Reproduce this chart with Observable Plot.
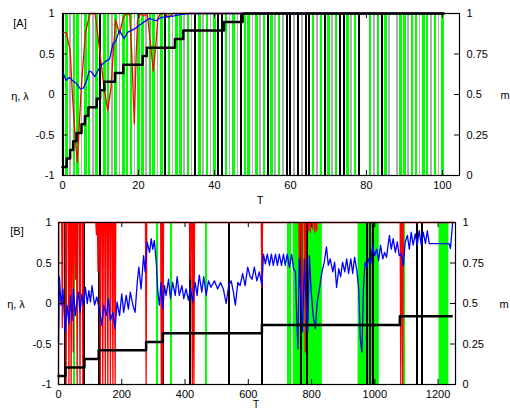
<!DOCTYPE html>
<html><head><meta charset="utf-8">
<script src="https://cdn.jsdelivr.net/npm/d3@7"></script>
<script src="https://cdn.jsdelivr.net/npm/@observablehq/plot@0.6"></script>
<style>
body{margin:0;background:#fff;}
#wrap{position:relative;width:510px;height:410px;overflow:hidden;font-family:"Liberation Sans",Arial,sans-serif;font-size:11px;color:#000;}
.panel{position:absolute;left:0;}
.lab{position:absolute;transform:translate(-50%,-50%);white-space:nowrap;line-height:1;}
</style></head><body>
<div id="wrap"></div>
<script>
// ---------- shared tick data ----------
const yTicks = [-1, -0.5, 0, 0.5, 1];
const yTickLabels = ["-1", "-0.5", "0", "0.5", "1"];
const mTickLabels = ["0", "0.25", "0.5", "0.75", "1"];
const xTicksA = [0, 20, 40, 60, 80, 100];
const xTicksB = [0, 200, 400, 600, 800, 1000, 1200];

// ---------- panel A data ----------
const aGreenT = [1,3,4,6,7,9,11,12,14,16,17,18,20,21,23,24,26,28,30,31,33,36,38,40,43,45,48,49,51,53,55,57,66,68,70,72,75,77,81,83,85,89,90,92,93,95,96,98,100];
const aGreyT = [2,5,8,13,15,19,22,25,29,32,34,37,39,44,46,50,52,56,58,61,63,67,71,76,82,86,88,91,94,97,99];
const aBlackT = [0,10,27,35,41,42,47,54,59,60,62,64,65,69,73,74,78,84];
// eta (red)
const etaA = [[0,0.77],[1,0.76],[2,0.55],[2.6,0.01],[3.4,-0.57],[3.9,-0.84],[4.9,0.05],[6.0,0.75],[7.1,0.98],[7.6,1],[8.6,1],[9.9,0.5],[10.9,0.1],[11.9,-0.2],[12.8,0.1],[13.4,0.55],[14,0.92],[15,0.75],[16,0.95],[16.9,1],[17.7,0.98],[18.2,0.55],[18.9,-0.36],[19.4,0.5],[19.8,0.92],[20.5,1],[21.4,0.97],[22.3,1],[23,0.7],[23.9,0.29],[24.6,0.63],[25.1,0.94],[25.8,1],[27,1],[28,0.95],[29,1],[100.4,1]];
// lambda (blue)
const lamA = [[0,0.29],[0.9,0.175],[1.8,0.21],[2.8,0.165],[3.6,0.14],[4.7,0.07],[5.5,0.08],[6.4,0.175],[7,0.29],[7.6,0.28],[8.5,0.22],[9.4,0.3],[10.2,0.36],[11.1,0.4],[12.4,0.44],[13.3,0.63],[13.9,0.65],[15,0.79],[16.2,0.69],[17.2,0.77],[19,0.81],[20.7,0.87],[22.9,0.94],[24.6,0.91],[25.9,0.95],[27.7,0.96],[29.4,0.97],[31.2,0.99],[33.4,1],[100.4,1]];
// m (black staircase), right axis
const mA_T = [0,1.1,2,2.8,3.7,5,5.9,6.8,9,9.9,11,13.8,16,21.1,22.2,29.6,31.8,42.5,47.4,100.4];
const mA_v = [0.053,0.105,0.158,0.211,0.263,0.316,0.368,0.421,0.474,0.526,0.579,0.632,0.684,0.737,0.789,0.842,0.895,0.947,1,1];

// ---------- panel B data ----------
const bGreenT = [50,311,357,465,724,731,1092];
const bGreenBands = [[742,834],[947,1014],[1203,1234]];
const bBlackT = [22,82,127,330,417,539,643,768,784,976,986,993,1134,1148];
const etaB = [[0,-1],[1,1],[10,1],[12,-0.3],[14,1],[22,1],[24,-1],[26,1],[31,1],[33,-1],[35,1],[38,1],[40,-1],[42,1],[45,1],[47,-0.6],[49,1],[52,1],[54,0.3],[56,1],[57,1],[59,-1],[61,1],[66,1],[68,-1],[70,1],[75,1],[77,-1],[79,1],[118,1],[120,0.85],[122,1],[123,1],[125,0.4],[127,1],[130,1],[132,-1],[134,1],[138,1],[140,-1],[142,1],[146,1],[148,-1],[150,1],[154,1],[156,-1],[158,1],[162,1],[164,-1],[166,1],[170,1],[172,-1],[174,1],[177,1],[179,-1],[181,1],[275,1],[277,-1],[279,1],[323,1],[325,-1],[327,1],[328,1],[330,-1],[332,1],[414,1],[416,0.3],[418,1],[421,1],[423,-1],[425,1],[426,1],[428,-1],[430,1],[641,1],[643,0.2],[645,1],[760,1],[762,0.3],[764,1],[768,1],[770,-0.1],[772,1],[778,1],[780,-0.6],[782,1],[789,1],[790,0.9],[791,1],[795,1],[796,0.88],[797,1],[802,1],[803,0.92],[804,1],[809,1],[810,0.88],[811,1],[815,1],[816,0.9],[817,1],[1080,1],[1082,-1],[1084,1],[1086,1],[1088,-1],[1090,1],[1250,1]];
const lamB = [[0,-0.48],[3,0.33],[8,-0.02],[14,0.18],[21,-0.35],[27,-0.02],[33,-0.25],[38,0.1],[43,-0.21],[47,0.18],[53,-0.15],[58,0.02],[63,0.14],[68,-0.11],[74,0.12],[79,-0.02],[85,0.2],[91,0],[96,0.16],[101,0.02],[106,0.22],[114,-0.02],[121,0.08],[130,-0.09],[137,-0.27],[143,-0.02],[151,-0.15],[158,0.06],[164,-0.21],[172,-0.11],[179,-0.31],[185,0.02],[193,-0.15],[200,0.12],[206,-0.11],[214,0.1],[221,-0.07],[227,0.14],[235,-0.02],[242,-0.11],[249,0.26],[254,0.45],[261,0.18],[269,0.59],[274,0.39],[280,0.76],[288,0.63],[293,0.8],[298,0.67],[303,0.78],[309,0.51],[314,0.14],[319,-0.02],[324,0.26],[330,-0.07],[335,0.22],[340,0.1],[348,0.3],[354,0.06],[361,0.26],[369,0.1],[375,0.33],[382,0.1],[390,0.22],[396,0.06],[403,0.18],[411,0.04],[417,0.2],[424,0.02],[432,0.26],[438,0.1],[445,0.35],[453,0.14],[459,0.33],[467,0.1],[474,0.28],[482,0.2],[493,0.28],[503,0.18],[512,0.26],[521,0.18],[530,0],[538,0.22],[546,0.28],[553,0.14],[559,-0.02],[567,0.26],[574,0.22],[582,0.37],[590,0.22],[598,0.45],[606,0.33],[612,0.3],[619,0.45],[627,0.28],[635,0.39],[643,0.22],[648,0.61],[654,0.49],[660,0.61],[667,0.47],[673,0.61],[679,0.47],[686,0.61],[692,0.47],[698,0.61],[705,0.47],[711,0.61],[717,0.47],[723,0.61],[730,0.45],[737,0.61],[743,0.43],[749,0.39],[753,-0.15],[757,-0.56],[761,0.55],[767,-0.02],[772,-0.35],[777,0.55],[782,0.06],[788,-0.35],[793,0.59],[799,0.14],[805,-0.15],[812,-0.31],[818,0.02],[825,0.18],[833,0.39],[840,0.51],[847,0.7],[853,0.47],[859,0.55],[867,0.39],[873,0.51],[879,0.2],[886,0.43],[892,0.33],[898,0.51],[905,0.39],[911,0.55],[917,0.37],[924,0.55],[930,0.37],[936,0.57],[943,0.41],[949,0.18],[954,-0.44],[959,-0.6],[964,0.18],[969,0.51],[975,0.45],[980,0.55],[987,0.49],[993,0.72],[999,0.59],[1006,0.67],[1012,0.53],[1018,0.72],[1025,0.55],[1031,0.63],[1037,0.57],[1046,0.84],[1052,0.67],[1058,0.8],[1065,0.63],[1071,0.76],[1077,0.59],[1084,0.61],[1090,0.47],[1096,0.76],[1103,0.84],[1109,0.67],[1115,0.88],[1121,0.72],[1128,0.86],[1134,0.72],[1140,0.9],[1147,0.72],[1153,0.88],[1160,0.74],[1166,0.9],[1172,0.74],[1235,0.74],[1239,0.68],[1246,1]];
const mB_T = [0,22,82,127,277,330,643,1079,1243];
const mB_v = [0.053,0.105,0.158,0.211,0.263,0.316,0.368,0.421,0.421];

// ---------- drawing ----------
const FONT = '"Liberation Sans", Arial, sans-serif';
function makePanel(cfg) {
  const [x0, x1] = cfg.xDomain;
  const tx = cfg.tickLenX; // tick length in x units (~5px)
  const ty = 0.062;       // tick length in y units (~5px)
  const stair = cfg.mT.map((t, i) => ({t, m: cfg.mV[i]}));
  return Plot.plot({
    width: 510, height: 205,
    marginTop: cfg.mt, marginBottom: cfg.mb, marginLeft: cfg.ml, marginRight: cfg.mr,
    x: {domain: cfg.xDomain}, y: {domain: [-1, 1]},
    style: {fontFamily: FONT, fontSize: "11px", background: "white", color: "black"},
    marks: [
      ...(cfg.bands ? [Plot.rect(cfg.bands, {x1: d => d[0], x2: d => d[1], fill: "#00ff00"})] : []),
      Plot.ruleX(cfg.green, {x: d => d, stroke: "#00ff00", strokeWidth: cfg.gw, shapeRendering: "crispEdges"}),
      ...(cfg.grey ? [Plot.ruleX(cfg.grey, {x: d => d, stroke: "#b0b0b0", strokeWidth: 1.5, shapeRendering: "crispEdges"})] : []),
      Plot.ruleX(cfg.black, {x: d => d, stroke: "#000", strokeWidth: 2, shapeRendering: "crispEdges"}),
      Plot.line(cfg.eta, {x: d => d[0], y: d => d[1], stroke: "#ff0000", strokeWidth: 1.3}),
      Plot.line(cfg.lam, {x: d => d[0], y: d => d[1], stroke: "#0000ff", strokeWidth: 1.3}),
      Plot.line(stair, {x: "t", y: d => 2 * d.m - 1, curve: "step-after", stroke: "#000", strokeWidth: 2.5}),
      Plot.frame({stroke: "#000", strokeWidth: 1.2}),
      // inward ticks
      Plot.ruleY(yTicks, {y: d => d, x1: x0, x2: x0 + tx, stroke: "#000"}),
      Plot.ruleY(yTicks, {y: d => d, x1: x1 - tx, x2: x1, stroke: "#000"}),
      Plot.ruleX(cfg.xTicks, {x: d => d, y1: -1, y2: -1 + ty, stroke: "#000"}),
      Plot.ruleX(cfg.xTicks, {x: d => d, y1: 1 - ty, y2: 1, stroke: "#000"}),
      Plot.axisX({ticks: cfg.xTicks, tickSize: 0, tickPadding: 6, tickFormat: d => String(d), label: null}),
      Plot.axisY({anchor: "left", ticks: yTicks, tickSize: 0, tickPadding: cfg.padL, tickFormat: d => yTickLabels[yTicks.indexOf(d)], label: null}),
      Plot.axisY({anchor: "right", ticks: yTicks, tickSize: 0, tickPadding: 7, tickFormat: d => mTickLabels[yTicks.indexOf(d)], label: null})
    ]
  });
}

const wrap = document.getElementById("wrap");
const pA = makePanel({xDomain: [0, 104.5], tickLenX: 1.3, mt: 13, mb: 30, ml: 62, mr: 51, padL: 8, gw: 2.5,
  green: aGreenT, grey: aGreyT, black: aBlackT, eta: etaA, lam: lamA, mT: mA_T, mV: mA_v, xTicks: xTicksA});
const pB = makePanel({xDomain: [0, 1255], tickLenX: 16, mt: 17, mb: 26, ml: 58, mr: 55, padL: 7, gw: 2,
  green: bGreenT, bands: bGreenBands, black: bBlackT, eta: etaB, lam: lamB, mT: mB_T, mV: mB_v, xTicks: xTicksB});
pA.classList.add("panel"); pA.style.top = "0px";
pB.classList.add("panel"); pB.style.top = "205px";
wrap.appendChild(pA); wrap.appendChild(pB);

const labels = [
  {t: "[A]", x: 20, y: 23}, {t: "η, λ", x: 20, y: 96}, {t: "m", x: 505, y: 95}, {t: "T", x: 260, y: 200},
  {t: "[B]", x: 17, y: 231}, {t: "η, λ", x: 16, y: 304}, {t: "m", x: 504, y: 304}, {t: "T", x: 256, y: 405, fs: 10}
];
for (const l of labels) {
  const s = document.createElement("span");
  s.className = "lab"; s.textContent = l.t;
  s.style.left = l.x + "px"; s.style.top = l.y + "px";
  if (l.fs) s.style.fontSize = l.fs + "px";
  wrap.appendChild(s);
}
</script>
</body></html>
